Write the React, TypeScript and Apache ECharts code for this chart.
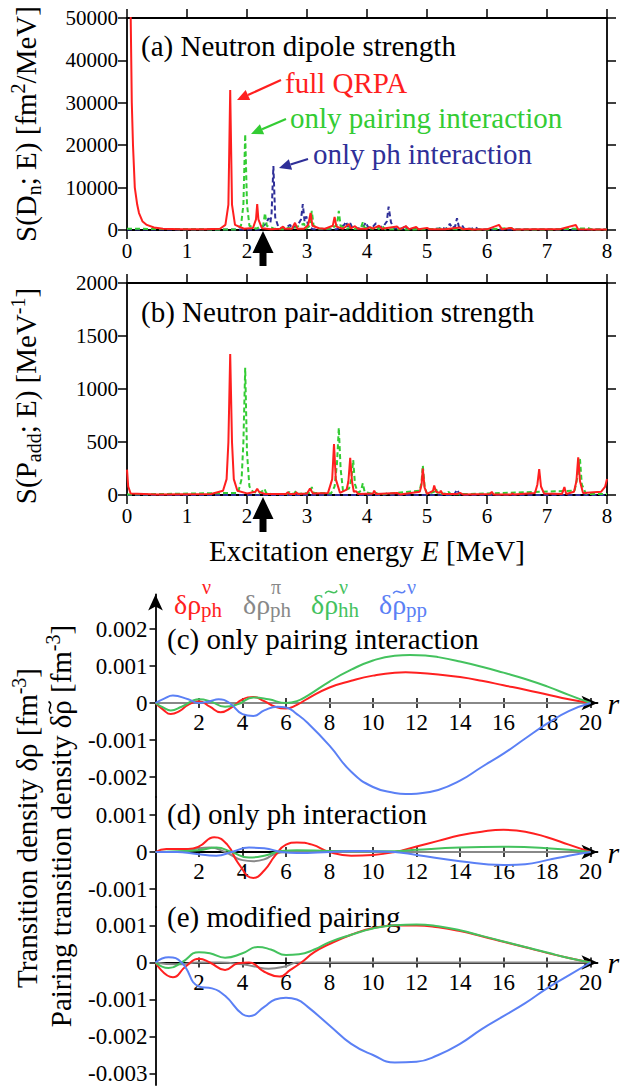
import React, { useEffect, useRef } from "react";
import * as echarts from "echarts";

const FONT = "Liberation Serif";

// ---------- Panel (a): neutron dipole strength [E (MeV), S (fm^2/MeV)] ----------
const energyTicks = [0, 1, 2, 3, 4, 5, 6, 7, 8];
const dipoleFullQrpa: number[][] = [
  [0, 80000], [0.06, 52000], [0.08, 30000], [0.1, 20000], [0.13, 10000], [0.17, 6000], [0.2, 4000],
  [0.26, 2000], [0.33, 1200], [0.45, 600], [0.6, 300], [0.9, 150], [1.3, 150], [1.55, 300],
  [1.64, 1200], [1.69, 6000], [1.72, 33000], [1.75, 6000], [1.8, 1200], [1.95, 300], [2.1, 500],
  [2.15, 2500], [2.17, 6100], [2.19, 2500], [2.25, 400], [2.4, 200], [2.55, 300], [2.6, 800],
  [2.63, 300], [2.75, 300], [2.8, 1700], [2.84, 300], [2.95, 300], [3.02, 1200], [3.06, 4000],
  [3.09, 1000], [3.2, 400], [3.3, 300], [3.43, 1000], [3.46, 3100], [3.49, 800], [3.6, 300],
  [3.7, 1400], [3.73, 400], [3.8, 900], [3.85, 300], [4.0, 300], [4.05, 700], [4.1, 300],
  [4.2, 1000], [4.25, 300], [4.5, 800], [4.55, 200], [4.65, 900], [4.7, 200], [4.82, 700],
  [4.86, 200], [5.0, 500], [5.05, 150], [5.3, 200], [5.55, 600], [5.6, 150], [5.7, 300],
  [5.75, 100], [6.0, 150], [6.2, 1200], [6.25, 150], [6.4, 500], [6.45, 100], [6.8, 200],
  [7.2, 150], [7.48, 1200], [7.52, 150], [7.8, 100], [8, 100],
];
const dipoleOnlyPairing: number[][] = [
  [0, 300], [1.8, 100], [1.9, 1000], [1.94, 6000], [1.97, 22600], [2.0, 6000], [2.04, 1000],
  [2.15, 300], [2.27, 1000], [2.3, 4000], [2.33, 1000], [2.45, 300], [2.6, 200], [2.7, 500],
  [2.75, 200], [2.95, 1500], [2.98, 300], [3.05, 1000], [3.08, 4500], [3.11, 1000], [3.2, 300],
  [3.4, 300], [3.5, 1200], [3.53, 4500], [3.56, 1000], [3.65, 300], [3.75, 600], [3.8, 200],
  [3.9, 600], [3.93, 1800], [3.96, 500], [4.1, 300], [4.15, 800], [4.2, 200], [4.25, 1000],
  [4.3, 200], [4.55, 200], [4.6, 500], [4.65, 100], [5.0, 200], [5.2, 300], [5.5, 200],
  [6.0, 100], [6.4, 500], [6.45, 100], [7.0, 100], [7.7, 400], [7.75, 100], [8, 100],
];
const dipoleOnlyPh: number[][] = [
  [0, 100], [2.2, 100], [2.32, 1500], [2.36, 2800], [2.39, 1800], [2.41, 4000], [2.44, 15100],
  [2.47, 3000], [2.52, 800], [2.6, 300], [2.72, 1200], [2.75, 300], [2.86, 1500], [2.9, 2500],
  [2.93, 6100], [2.96, 2000], [2.99, 3200], [3.02, 800], [3.1, 200], [3.5, 200], [3.62, 1200],
  [3.65, 2000], [3.68, 800], [3.72, 1600], [3.76, 400], [3.85, 300], [3.95, 1000], [3.98, 1800],
  [4.02, 600], [4.1, 800], [4.15, 1600], [4.2, 600], [4.28, 1000], [4.33, 2000], [4.36, 5500],
  [4.4, 1800], [4.45, 400], [4.6, 300], [4.63, 1200], [4.67, 300], [5.0, 200], [5.2, 300],
  [5.25, 700], [5.3, 200], [5.35, 600], [5.38, 1500], [5.42, 400], [5.47, 900], [5.5, 2800],
  [5.53, 800], [5.58, 1200], [5.62, 300], [5.75, 300], [5.8, 700], [5.85, 200], [6.0, 100], [8, 100],
];

// ---------- Panel (b): neutron pair-addition strength [E (MeV), S (1/MeV)] ----------
const pairFullQrpa: number[][] = [
  [0, 240], [0.02, 80], [0.06, 15], [0.5, 5], [1.4, 10], [1.6, 40], [1.66, 150], [1.69, 500],
  [1.72, 1330], [1.75, 500], [1.78, 150], [1.84, 40], [2.0, 15], [2.14, 30], [2.17, 60], [2.2, 30],
  [2.3, 10], [2.65, 10], [2.68, 25], [2.71, 10], [2.8, 10], [2.82, 25], [2.85, 10], [3.0, 15],
  [3.05, 60], [3.1, 15], [3.35, 20], [3.42, 150], [3.45, 480], [3.48, 150], [3.55, 20], [3.66, 50],
  [3.69, 130], [3.72, 350], [3.75, 130], [3.78, 30], [3.82, 35], [3.85, 10], [4.1, 15], [4.12, 40],
  [4.15, 10], [4.5, 20], [4.55, 5], [4.88, 30], [4.91, 100], [4.93, 250], [4.96, 70], [5.0, 10],
  [5.1, 40], [5.12, 90], [5.15, 30], [5.21, 20], [5.23, 40], [5.26, 10], [5.5, 10], [5.55, 20],
  [5.6, 5], [6.05, 10], [6.08, 30], [6.11, 5], [6.4, 5], [6.42, 15], [6.45, 5], [6.8, 20],
  [6.84, 100], [6.87, 245], [6.9, 80], [6.95, 15], [7.25, 10], [7.29, 75], [7.32, 10], [7.45, 30],
  [7.49, 130], [7.52, 355], [7.55, 130], [7.6, 20], [7.9, 30], [7.97, 80], [8, 150],
];
const pairOnlyPairing: number[][] = [
  [0, 5], [1.85, 20], [1.91, 150], [1.94, 500], [1.97, 1200], [2.0, 400], [2.04, 80], [2.1, 30],
  [2.2, 15], [2.26, 40], [2.29, 60], [2.32, 20], [2.4, 10], [2.67, 10], [2.7, 30], [2.73, 10],
  [2.79, 15], [2.82, 40], [2.85, 10], [3.05, 20], [3.08, 75], [3.11, 20], [3.4, 15], [3.46, 80],
  [3.5, 300], [3.53, 635], [3.56, 250], [3.6, 40], [3.7, 60], [3.74, 150], [3.77, 330], [3.8, 100],
  [3.85, 20], [3.9, 40], [3.93, 110], [3.96, 30], [4.1, 10], [4.15, 20], [4.2, 5], [4.88, 40],
  [4.91, 130], [4.93, 280], [4.96, 80], [5.0, 10], [5.12, 30], [5.15, 60], [5.18, 10], [5.33, 15],
  [5.36, 30], [5.4, 5], [7.46, 40], [7.5, 150], [7.55, 340], [7.58, 100], [7.65, 10], [8, 10],
];
const pairOnlyPh: number[][] = [
  [0, 0], [4.3, 0], [4.35, 20], [4.4, 0], [5.45, 0], [5.5, 50], [5.55, 0], [8, 0],
];

// ---------- Panels (c)-(e): transition densities [r (fm), value (fm^-3)] ----------
const rTicks = [2, 4, 6, 8, 10, 12, 14, 16, 18, 20];
const ticksC = [-0.002, -0.001, 0, 0.001, 0.002];
const ticksD = [-0.001, 0, 0.001];
const ticksE = [-0.003, -0.002, -0.001, 0, 0.001];

// (c) only pairing interaction
const cPhNeutron: number[][] = [
  [0, 0], [0.35, -0.00018], [0.7, -0.0003], [1.1, -0.00022], [1.5, -0.00005], [2.0, 0.00005],
  [2.5, -0.0001], [3.0, -0.00025], [3.5, -0.00012], [4.0, 0.0001], [4.5, 0.00016], [5.0, 0.00005],
  [5.5, -0.0001], [6.0, -0.00015], [6.5, -0.00005], [7, 0.00012], [8, 0.00042], [9, 0.0006],
  [10, 0.00074], [11, 0.00082], [11.5, 0.00083], [12, 0.00082], [13, 0.00077], [14, 0.0007],
  [15, 0.0006], [16, 0.00048], [17, 0.00036], [18, 0.00023], [19, 0.0001], [20, 0],
];
const cPhProton: number[][] = [[0, 0], [10, 0], [20, 0]];
const cHhNeutron: number[][] = [
  [0, 0], [0.35, -0.00012], [0.7, -0.0002], [1.2, -0.0001], [2.0, 0.0001], [2.5, 0.00005],
  [3.2, -0.0001], [3.8, -0.00003], [4.5, 0.00015], [5.2, 0.0001], [6.0, 0.0], [6.5, 0.00005],
  [7, 0.0002], [8, 0.00058], [9, 0.0009], [10, 0.00115], [11, 0.00128], [11.7, 0.0013],
  [12.5, 0.00128], [13, 0.00124], [14, 0.00112], [15, 0.00098], [16, 0.00082], [17, 0.00065],
  [18, 0.00045], [19, 0.00022], [20, 0],
];
const cPpNeutron: number[][] = [
  [0, 0], [0.4, 0.00012], [0.8, 0.0002], [1.5, 0.0001], [2.0, 0.0], [2.5, 0.00005], [2.9, 0.0001],
  [3.4, 0.0], [4.0, -0.0003], [4.5, -0.00035], [5.0, -0.0002], [5.6, -0.0001], [6.0, -0.00012],
  [6.5, -0.0003], [7, -0.00054], [8, -0.00115], [9, -0.00186], [10, -0.00227], [11, -0.00243],
  [11.5, -0.00246], [12, -0.00245], [13, -0.00235], [14, -0.0021], [15, -0.00173], [16, -0.00137],
  [17, -0.00096], [18, -0.00056], [19, -0.00022], [20, 0],
];

// (d) only ph interaction
const dPhNeutron: number[][] = [
  [0, 0], [0.5, 0.00008], [1.5, 0.00008], [2.0, 0.00015], [2.7, 0.0004], [3.3, 0.0002],
  [3.8, -0.0003], [4.5, -0.0007], [5.0, -0.0005], [5.5, -0.0001], [6.0, 0.0002], [6.5, 0.00026],
  [7.2, 0.0002], [8, 0.0], [9, -0.0001], [10, -0.00008], [11, 0], [12, 0.00015], [13, 0.0003],
  [14, 0.00045], [15, 0.00055], [16, 0.0006], [17, 0.00055], [18, 0.0004], [19, 0.0002], [20, 0],
];
const dPhProton: number[][] = [
  [0, 0], [1, 0.0], [2, 0.0001], [2.5, 0.00012], [3.2, 0.0], [4.0, -0.00022], [4.5, -0.00025],
  [5.0, -0.0002], [5.5, -0.00005], [6, 0], [10, 0], [20, 0],
];
const dHhNeutron: number[][] = [
  [0, 0], [1, 0.00002], [2, 0.00005], [2.8, 0.00012], [3.5, 0.0], [4.3, -0.00015], [5, -0.0001],
  [5.8, 0.00003], [6.5, 0.00005], [8, 0.00003], [10, 0.00002], [11, 0.00002], [12, 0.00006],
  [14, 0.00012], [16, 0.00014], [18, 0.0001], [20, 0],
];
const dPpNeutron: number[][] = [
  [0, 0], [1, 0.0], [1.8, -0.00005], [2.8, -0.0001], [3.5, 0.0], [4.3, 0.00012], [5, 0.0001],
  [5.8, 0.0], [6.5, -0.00003], [8, 0], [9, 0.00003], [10, 0.00002], [11, 0], [12, -0.00008],
  [14, -0.00025], [16, -0.00035], [17, -0.00033], [18, -0.00022], [19, -0.0001], [20, 0],
];

// (e) modified pairing
const ePhNeutron: number[][] = [
  [0, 0], [0.8, -0.0004], [1.4, -0.0001], [2.0, 0.0001], [2.5, 0.0], [3.2, -0.0002], [3.8, -0.00002],
  [4.3, 0.0], [5.0, -0.00025], [5.7, -0.00038], [6.2, -0.0002], [6.7, 0.0], [7.3, 0.00028],
  [8, 0.0005], [9, 0.00075], [10, 0.00093], [11, 0.001], [12, 0.001], [13, 0.00095], [14, 0.00085],
  [15, 0.00071], [16, 0.00056], [17, 0.00041], [18, 0.00026], [19, 0.00012], [20, 0],
];
const ePhProton: number[][] = [
  [0, 0], [1, -0.00005], [2, 0.0], [3, 0.0], [4, -0.00005], [4.5, -0.0001], [5.2, -0.00017],
  [6, -0.0001], [6.5, 0], [10, 0], [20, 0],
];
const eHhNeutron: number[][] = [
  [0, 0], [0.6, -0.00015], [1.2, 0.0], [2.0, 0.00028], [2.5, 0.00025], [3.2, 0.00013], [4.0, 0.00025],
  [4.7, 0.00042], [5.3, 0.00035], [6.0, 0.0002], [6.6, 0.00022], [7.3, 0.00035], [8, 0.00055],
  [9, 0.00075], [10, 0.00092], [11, 0.00101], [12, 0.00103], [13, 0.00098], [14, 0.00087],
  [15, 0.00072], [16, 0.00057], [17, 0.00042], [18, 0.00027], [19, 0.00012], [20, 0],
];
const ePpNeutron: number[][] = [
  [0, 0], [0.6, 0.00014], [1.2, 0.0], [2.0, -0.00065], [2.6, -0.0007], [3.2, -0.0009], [4.0, -0.0014],
  [4.3, -0.00145], [5.0, -0.0012], [5.5, -0.001], [6.0, -0.00095], [6.5, -0.001], [7.0, -0.0012],
  [8, -0.0017], [9, -0.0022], [10, -0.0025], [11, -0.0027], [12, -0.00268], [13, -0.0025],
  [14, -0.0022], [15, -0.0018], [16, -0.00145], [17, -0.0011], [18, -0.0007], [19, -0.00035], [20, 0],
];

// ---------- colours ----------
const RED = "#ff1f1f";
const GREEN_TOP = "#33cc33";
const NAVY = "#2f2f98";
const C_RED = "#ff2020";
const C_GRAY = "#888888";
const C_GREEN = "#44c25e";
const C_BLUE = "#5b80f5";

function measure(s: string, size: number): number {
  const ctx = document.createElement("canvas").getContext("2d");
  if (!ctx) return s.length * size * 0.45;
  ctx.font = `${size}px "${FONT}"`;
  return ctx.measureText(s).width;
}

function buildOption() {
  const lineBlack = { color: "#000", width: 1.8 };
  const tickStyle = { color: "#000", width: 1.5 };
  const labelStyle = { fontSize: 21, color: "#000", fontFamily: FONT };
  const lowLabelStyle = { fontSize: 23, color: "#000", fontFamily: FONT };

  // upper panels layout
  const upLeft = 127, upWidth = 480, upHeight = 212;
  const topA = 18, topB = 283;

  // lower panels layout (37 px per 0.001)
  const ppu = 37000;
  const lowLeft = 155.5;
  const pxPerR = 21.75;
  const xEnd = 597.5;
  const rMax = (xEnd - lowLeft) / pxPerR;
  const lowW = xEnd - lowLeft;
  const panels = [
    { top: 594.5, bottom: 797, zero: 703, ticks: ticksC, arrow: true },
    { top: 797, bottom: 907, zero: 852, ticks: ticksD, arrow: false },
    { top: 907, bottom: 1085, zero: 962.5, ticks: ticksE, arrow: false },
  ];

  const grid: any[] = [
    { left: upLeft, top: topA, width: upWidth, height: upHeight },
    { left: upLeft, top: topB, width: upWidth, height: upHeight },
  ];

  const boxX = (gi: number, pos: string, showLabel: boolean) => ({
    type: "value", gridIndex: gi, min: 0, max: 8, interval: 1, position: pos,
    axisLine: { show: true, onZero: false, lineStyle: lineBlack },
    axisTick: { show: true, inside: false, length: 9, lineStyle: tickStyle },
    axisLabel: { show: showLabel, margin: 10, ...labelStyle, formatter: (v: number) => String(v) },
    splitLine: { show: false },
  });
  const boxY = (gi: number, pos: string, max: number, interval: number, showLabel: boolean) => ({
    type: "value", gridIndex: gi, min: 0, max, interval, position: pos,
    axisLine: { show: true, onZero: false, lineStyle: lineBlack },
    axisTick: { show: true, inside: false, length: 9, lineStyle: tickStyle },
    axisLabel: { show: showLabel, margin: 9, ...labelStyle, formatter: (v: number) => String(v) },
    splitLine: { show: false },
  });
  const hiddenAxis = (gi: number, min: number, max: number) => ({
    type: "value", gridIndex: gi, min, max,
    axisLine: { show: false, onZero: false }, axisTick: { show: false }, axisLabel: { show: false },
    splitLine: { show: false },
  });

  const xAxis: any[] = [
    boxX(0, "bottom", true), boxX(0, "top", false),
    boxX(1, "bottom", true), boxX(1, "top", false),
  ];
  const yAxis: any[] = [
    boxY(0, "left", 50000, 10000, true), boxY(0, "right", 50000, 10000, false),
    boxY(1, "left", 2000, 500, true), boxY(1, "right", 2000, 500, false),
  ];

  // For each lower panel: a full-height grid (data + y axis), and two thin grids whose
  // bottom edge sits on the zero line (x axis with labels; inward ticks).
  const dataAxisIdx: number[] = [];
  panels.forEach((p) => {
    const gMain = grid.length;
    grid.push({ left: lowLeft, top: p.top, width: lowW, height: p.bottom - p.top });
    dataAxisIdx.push(xAxis.length);
    xAxis.push(hiddenAxis(gMain, 0, rMax));
    yAxis.push({
      type: "value", gridIndex: gMain,
      min: -(p.bottom - p.zero) / ppu, max: (p.zero - p.top) / ppu, position: "left",
      axisLine: {
        show: true, onZero: false, lineStyle: lineBlack,
        symbol: p.arrow ? ["none", "arrow"] : "none", symbolSize: [11, 16],
      },
      axisTick: { show: true, inside: false, length: 6, customValues: p.ticks, lineStyle: tickStyle },
      axisLabel: {
        show: true, customValues: p.ticks, margin: 8, ...lowLabelStyle,
        formatter: (v: number) => (Math.abs(v) < 1e-9 ? "0" : String(Number(v.toFixed(3)))),
      },
      splitLine: { show: false },
    });

    const gZero = grid.length;
    grid.push({ left: lowLeft, top: p.zero - 20, width: lowW, height: 20 });
    xAxis.push({
      type: "value", gridIndex: gZero, min: 0, max: rMax, position: "bottom",
      axisLine: { show: true, onZero: false, lineStyle: lineBlack, symbol: ["none", "arrow"], symbolSize: [11, 16] },
      axisTick: { show: true, inside: false, length: 5, customValues: rTicks, lineStyle: tickStyle },
      axisLabel: { show: true, customValues: rTicks, margin: 8, ...lowLabelStyle },
      splitLine: { show: false },
      name: "r", nameLocation: "end", nameGap: 10,
      nameTextStyle: { fontStyle: "italic", fontSize: 30, fontFamily: FONT, color: "#000", verticalAlign: "middle" },
    });
    yAxis.push(hiddenAxis(gZero, 0, 1));

    const gIn = grid.length;
    grid.push({ left: lowLeft, top: p.zero - 20, width: lowW, height: 20 });
    xAxis.push({
      type: "value", gridIndex: gIn, min: 0, max: rMax, position: "bottom",
      axisLine: { show: false, onZero: false },
      axisTick: { show: true, inside: true, length: 5, customValues: rTicks, lineStyle: tickStyle },
      axisLabel: { show: false },
      splitLine: { show: false },
    });
    yAxis.push(hiddenAxis(gIn, 0, 1));
  });

  const spike = (data: number[][], xi: number, yi: number, color: string, dashed: boolean) => ({
    type: "line", data, xAxisIndex: xi, yAxisIndex: yi, showSymbol: false, symbol: "none",
    lineStyle: { color, width: 2, type: dashed ? [5, 3] : "solid" }, clip: true, silent: true,
  });
  const dens = (data: number[][], pi: number, color: string) => ({
    type: "line", data, xAxisIndex: dataAxisIdx[pi], yAxisIndex: dataAxisIdx[pi], showSymbol: false, symbol: "none",
    smooth: 0.5, lineStyle: { color, width: 2 }, clip: true, silent: true,
  });

  const series: any[] = [
    spike(dipoleOnlyPh, 0, 0, NAVY, true),
    spike(dipoleOnlyPairing, 0, 0, GREEN_TOP, true),
    spike(dipoleFullQrpa, 0, 0, RED, false),
    spike(pairOnlyPh, 2, 2, NAVY, true),
    spike(pairOnlyPairing, 2, 2, GREEN_TOP, true),
    spike(pairFullQrpa, 2, 2, RED, false),
    dens(cPhProton, 0, C_GRAY), dens(cPhNeutron, 0, C_RED), dens(cHhNeutron, 0, C_GREEN), dens(cPpNeutron, 0, C_BLUE),
    dens(dPhProton, 1, C_GRAY), dens(dPhNeutron, 1, C_RED), dens(dHhNeutron, 1, C_GREEN), dens(dPpNeutron, 1, C_BLUE),
    dens(ePhProton, 2, C_GRAY), dens(ePhNeutron, 2, C_RED), dens(eHhNeutron, 2, C_GREEN), dens(ePpNeutron, 2, C_BLUE),
  ];

  // ---------- annotations ----------
  const txt = (text: string, x: number, y: number, color: string, size: number, align = "left", extra: any = {}) => ({
    type: "text", x, y, silent: true,
    style: { text, fill: color, fontSize: size, fontFamily: FONT, align, verticalAlign: "middle", ...extra },
  });
  const pointer = (tail: number[], tip: number[], color: string) => {
    const dx = tail[0] - tip[0], dy = tail[1] - tip[1];
    const n = Math.sqrt(dx * dx + dy * dy);
    const ux = dx / n, uy = dy / n, px = -uy, py = ux;
    const hl = 12, hw = 5.5;
    const bx = tip[0] + ux * hl, by = tip[1] + uy * hl;
    return [
      { type: "line", silent: true, shape: { x1: tail[0], y1: tail[1], x2: bx, y2: by }, style: { stroke: color, lineWidth: 2.2 } },
      { type: "polygon", silent: true, shape: { points: [tip, [bx + px * hw, by + py * hw], [bx - px * hw, by - py * hw]] }, style: { fill: color } },
    ];
  };
  const upArrow = (x: number, tipY: number) => ({
    type: "polygon", silent: true, z: 100,
    shape: {
      points: [[x, tipY], [x + 10.5, tipY + 22], [x + 3.5, tipY + 22], [x + 3.5, tipY + 35],
        [x - 3.5, tipY + 35], [x - 3.5, tipY + 22], [x - 10.5, tipY + 22]],
    },
    style: { fill: "#000" },
  });
  // tilde accent drawn as a small curve (horizontal, or rotated for vertical text)
  const tildeH = (cx: number, cy: number, color: string) => ({
    type: "bezierCurve", silent: true,
    shape: { x1: cx - 6, y1: cy + 1.5, cpx1: cx - 2, cpy1: cy - 5, cpx2: cx + 2, cpy2: cy + 5, x2: cx + 6, y2: cy - 1.5 },
    style: { stroke: color, lineWidth: 1.6, fill: "none" },
  });
  const tildeV = (cx: number, cy: number, color: string) => ({
    type: "bezierCurve", silent: true,
    shape: { x1: cx + 1.5, y1: cy + 6, cpx1: cx - 5, cpy1: cy + 2, cpx2: cx + 5, cpy2: cy - 2, x2: cx - 1.5, y2: cy - 6 },
    style: { stroke: color, lineWidth: 1.6, fill: "none" },
  });

  const M = 29, S = 20;
  const richBase = {
    m: { fontSize: M, fontFamily: FONT, lineHeight: 36, fill: "#000" },
    sub: { fontSize: S, fontFamily: FONT, lineHeight: 20, verticalAlign: "bottom", fill: "#000" },
    sup: { fontSize: S, fontFamily: FONT, lineHeight: 20, verticalAlign: "top", fill: "#000" },
    it: { fontSize: M, fontFamily: FONT, lineHeight: 36, fontStyle: "italic", fill: "#000" },
  };
  const rotTitle = (text: string, x: number, y: number) => ({
    type: "text", x, y, rotation: Math.PI / 2, silent: true,
    style: { text, rich: richBase, align: "center", verticalAlign: "middle", fill: "#000", fontFamily: FONT, fontSize: M },
  });

  // second lower title with a tilde drawn over rho
  const l2a = "Pairing transition density δρ [fm";
  const l2W = measure(l2a, M) + measure("-3", S) + measure("]", M);
  const l2x = 61, l2y = 826;
  const rhoCenter = measure("Pairing transition density δ", M) + measure("ρ", M) / 2;
  const tildeY = l2y + l2W / 2 - rhoCenter;

  const legendItem = (base: string, sup: string, sub: string, x: number, color: string, tilde: boolean) => {
    const items: any[] = [
      txt(base, x, 604, color, 28),
      txt(sup, x + 28, 587, color, 20),
      txt(sub, x + 27, 610, color, 21),
    ];
    if (tilde) {
      const rc = measure("δ", 28) + measure("ρ", 28) / 2;
      items.push(tildeH(x + rc, 592, color));
    }
    return items;
  };

  const graphic: any[] = [
    txt("(a) Neutron dipole strength", 141, 46, "#000", M),
    txt("(b) Neutron pair-addition strength", 141, 312, "#000", M),
    txt("full QRPA", 285, 83, RED, M),
    txt("only pairing interaction", 290, 118, GREEN_TOP, M),
    txt("only ph interaction", 313, 154, NAVY, M),
    ...pointer([281, 80], [237, 100], RED),
    ...pointer([286, 119], [251, 134], GREEN_TOP),
    ...pointer([308, 159], [279, 168], NAVY),
    upArrow(263, 231),
    upArrow(263, 497),
    {
      type: "text", x: 367, y: 551, silent: true,
      style: { text: "{m|Excitation energy }{it|E}{m| [MeV]}", rich: richBase, align: "center", verticalAlign: "middle" },
    },
    rotTitle("{m|S(D}{sub|n}{m|; E) [fm}{sup|2}{m|/MeV]}", 26, 124),
    rotTitle("{m|S(P}{sub|add}{m|; E) [MeV}{sup|-1}{m|]}", 26, 396),
    rotTitle("{m|Transition density δρ [fm}{sup|-3}{m|]}", 27, 828),
    rotTitle(`{m|${l2a}}{sup|-3}{m|]}`, l2x, l2y),
    tildeV(l2x - 11, tildeY, "#000"),
    txt("(c) only pairing interaction", 167, 639, "#000", M),
    txt("(d) only ph interaction", 167, 814, "#000", M),
    txt("(e) modified pairing", 167, 917, "#000", M),
    ...legendItem("δρ", "ν", "ph", 174, C_RED, false),
    ...legendItem("δρ", "π", "ph", 243, C_GRAY, false),
    ...legendItem("δρ", "ν", "hh", 311, C_GREEN, true),
    ...legendItem("δρ", "ν", "pp", 379, C_BLUE, true),
  ];

  return {
    animation: false,
    backgroundColor: "#fff",
    textStyle: { fontFamily: FONT },
    grid, xAxis, yAxis, series, graphic,
  };
}

export default function App() {
  const ref = useRef<HTMLDivElement>(null);
  useEffect(() => {
    if (!ref.current) return;
    const chart = echarts.init(ref.current, null, { renderer: "svg" });
    chart.setOption(buildOption() as any);
    return () => chart.dispose();
  }, []);
  return <div ref={ref} style={{ position: "absolute", left: 0, top: 0, width: 622, height: 1092 }} />;
}
